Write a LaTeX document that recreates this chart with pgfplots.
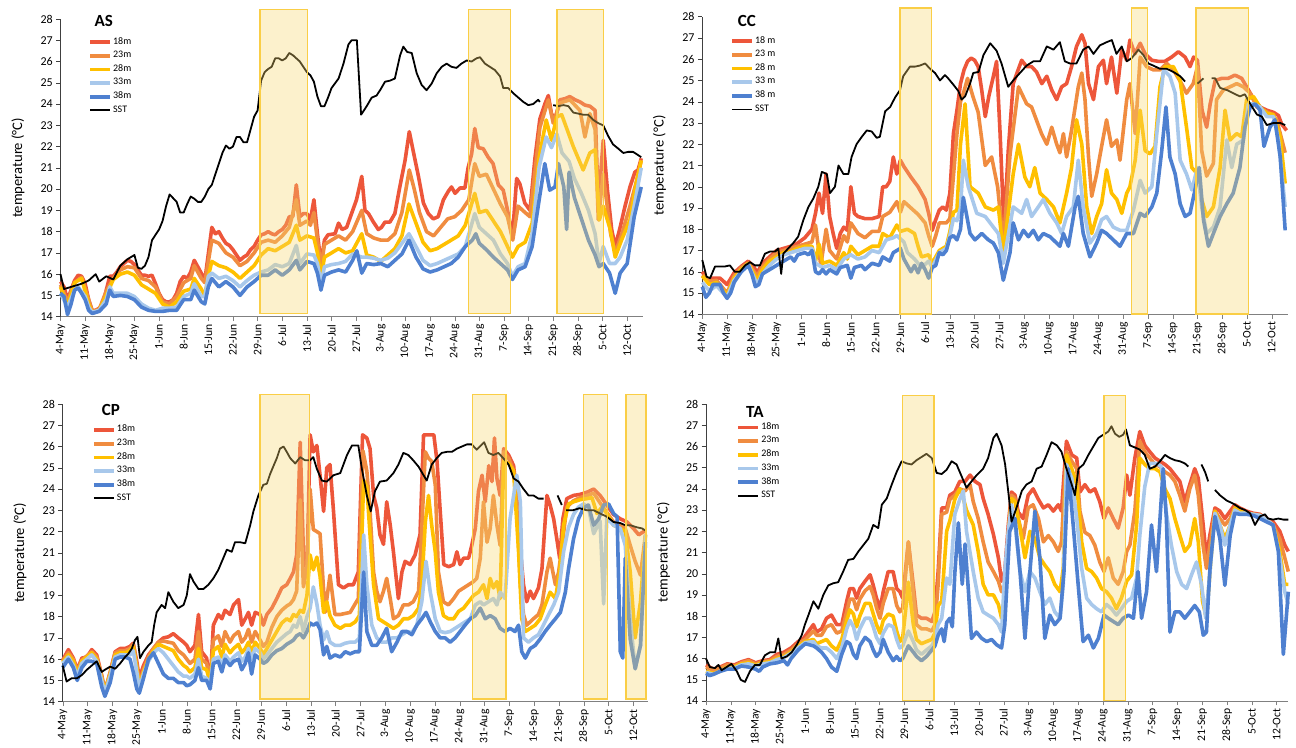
\documentclass[border=0pt]{standalone}
\usepackage{fontspec}
\setmainfont{Carlito}
\usepackage{pgfplots}
\pgfplotsset{compat=1.18}
\newcommand{\fs}[1]{\fontsize{#1}{#1}\selectfont}
\definecolor{c18}{RGB}{237,86,58}
\definecolor{c23}{RGB}{240,140,64}
\definecolor{c28}{RGB}{255,192,0}
\definecolor{c33}{RGB}{168,200,235}
\definecolor{c38}{RGB}{78,128,208}
\definecolor{boxfill}{RGB}{247,214,110}
\definecolor{boxedge}{RGB}{250,206,70}
\tikzset{hbox/.style={draw=boxedge, line width=0.7pt, fill=boxfill, fill opacity=0.35}}
\pgfplotsset{
  panel/.style={
    scale only axis, xmin=0, ymin=14, ymax=28,
    axis x line*=bottom, axis y line*=left,
    axis line style={-},
    x axis line style={draw=gray},
    y axis line style={draw=black!75},
    xtick={0,7,...,161},
    xticklabels={4-May,11-May,18-May,25-May,1-Jun,8-Jun,15-Jun,22-Jun,29-Jun,6-Jul,13-Jul,20-Jul,27-Jul,3-Aug,10-Aug,17-Aug,24-Aug,31-Aug,7-Sep,14-Sep,21-Sep,28-Sep,5-Oct,12-Oct},
    xticklabel style={rotate=90, anchor=east, font=\fs{5.8}, inner sep=1.5pt},
    ytick={14,...,28},
    yticklabel style={font=\fs{6}, inner sep=1.5pt},
    /pgf/number format/assume math mode=true,
    tick align=outside, major tick length=2.2pt,
    xtick style={draw=gray}, ytick style={draw=black!75},
    ylabel={temperature (°C)},
    every axis y label/.style={at={(axis description cs:-0.073,0.5)}, rotate=90, anchor=center, font=\fs{7.3}},
    clip=false, unbounded coords=jump,
    legend style={draw=none, fill=none, font=\fs{5}, inner sep=0pt, row sep=0.8pt, nodes={inner sep=0.6pt}, anchor=north west, cells={anchor=west}},
    legend image code/.code={\draw[#1] (0pt,0pt) -- (10pt,0pt);},
    every axis plot/.append style={line join=round},
  },
  s18/.style={c18, line width=1.8pt},
  s23/.style={c23, line width=1.8pt},
  s28/.style={c28, line width=1.8pt},
  s33/.style={c33, line width=1.8pt},
  s38/.style={c38, line width=1.8pt},
  sst/.style={black, line width=0.9pt},
}
\begin{document}
\begin{tikzpicture}
\useasboundingbox (0,0) rectangle (648pt,374pt);
% ---------------- AS ----------------
\begin{axis}[panel, at={(30.25pt,215.65pt)}, anchor=south west, width=291.25pt, height=148.85pt, xmax=165.5,
  legend style={at={(axis cs:7.8,27.22)}}]
\addplot[s18] coordinates {(0,15.65)(1,15.4)(2,14.8)(3,15.25)(4,15.7)(5,15.95)(6,15.9)(7,15.55)(8,14.8)(9,14.3)(10,14.3)(11,14.4)(12,14.55)(13,15.25)(14,15.9)(15,15.9)(16,16.1)(17,16.35)(18,16.5)(19,16.65)(20,16.6)(21,16.45)(22,16.2)(23,15.95)(24,15.95)(25,15.9)(26,15.95)(27,15.55)(28,15.1)(29,14.8)(30,14.7)(31,14.7)(32,14.8)(33,15.1)(34,15.65)(35,15.9)(36,15.8)(37,16.1)(38,16.65)(39,16.35)(40,16.05)(41,15.7)(42,16.95)(43,18.2)(44,17.9)(45,18.0)(46,17.7)(47,17.45)(48,17.35)(49,17.15)(50,16.9)(51,16.65)(52,16.8)(53,16.9)(54,17.15)(55,17.3)(56,17.6)(57,17.85)(58,17.9)(59,18.0)(60,17.9)(61,17.85)(62,18.0)(63,18.1)(64,18.3)(65,18.7)(66,18.7)(67,20.2)(68,18.7)(69,18.85)(70,18.85)(71,18.55)(72,19.5)(73,17.9)(74,16.5)(75,17.6)(76,17.85)(78,17.9)(79,18.4)(80,18.1)(81.3,18.2)(82.7,18.85)(84.1,19.5)(85.6,20.6)(86.5,19.0)(87.5,18.85)(88.9,18.45)(90.3,18.1)(91.2,18.2)(92.2,18.45)(93.6,18.45)(95,18.85)(96.4,20.1)(97.9,21.35)(99.1,22.7)(100.2,21.8)(101.7,20.6)(103.1,19.35)(104.5,18.85)(105.9,18.6)(107.3,18.7)(108.8,19.5)(110.2,19.9)(111.1,20.1)(112.1,19.8)(113.5,20.05)(114.9,20.05)(115.8,21.0)(116.8,21.65)(117.7,22.85)(118.7,21.95)(120.1,21.9)(121.5,21.5)(122.9,21.2)(124.4,20.2)(125.8,19.95)(127.2,18.85)(128.4,17.75)(129.6,20.5)(130.5,20.25)(131.9,19.35)(133.4,19.0)(134.8,21.45)(136.2,23.3)(137.6,24.0)(138.6,24.4)(139.5,23.55)(140.5,23.25)(141.9,24.2)(143.3,24.25)(144.7,24.35)(146.2,24.2)(147.6,24.1)(149,23.95)(150.4,23.9)(151.9,23.7)(152.8,19.2)(154.2,22.3)(155.4,19.95)(156.6,18.1)(157.6,17.3)(159,18.2)(160.4,19.2)(161.8,20.1)(163.2,20.8)(164.1,20.9)(165,21.45)};
\addlegendentry{18m}
\addplot[s23] coordinates {(0,15.5)(2,14.7)(4,15.6)(6,15.85)(8,14.8)(9,14.25)(11,14.35)(13,15.2)(15,15.8)(17,16.2)(19,16.35)(21,16.3)(23,15.8)(25,15.7)(27,15.4)(29,14.7)(31,14.6)(33,14.95)(35,15.6)(37,15.8)(38,16.4)(40,15.8)(41,15.6)(42,16.6)(43,17.6)(45,17.45)(47,17.0)(49,16.8)(51,16.4)(53,16.6)(55,17.0)(57,17.5)(59,17.6)(61,17.5)(63,17.8)(65,18.2)(67,19.5)(68,18.3)(70,18.5)(71,18.3)(72,18.9)(73,17.6)(74,16.3)(75,17.4)(77,17.6)(79,17.8)(81,17.6)(83,18.0)(85.6,19.0)(87,17.9)(89,17.7)(91,17.6)(93,17.6)(95,17.9)(97,18.9)(99.1,20.9)(100.5,20.0)(102,18.9)(104,18.0)(106,17.8)(108,18.2)(110,18.6)(112,18.7)(114,19.0)(116,19.5)(117.7,21.2)(119,20.6)(121,20.7)(123,20.0)(125,19.3)(127,18.7)(128.5,17.6)(130,19.2)(132,18.9)(133.4,18.7)(136.2,22.9)(138.6,24.2)(140,23.1)(141.9,24.05)(144.7,24.2)(147.6,23.7)(149,22.45)(150.4,23.55)(151.9,22.8)(152.8,18.55)(154.2,20.7)(156.3,17.9)(157.6,17.0)(159.5,17.9)(161.8,19.2)(163.7,20.4)(165,21.35)};
\addlegendentry{23m}
\addplot[s28] coordinates {(0,15.4)(2,14.5)(4,15.6)(6,15.8)(8,14.6)(9,14.2)(11,14.3)(13,15.0)(15,15.75)(17,16.0)(19,16.1)(21,15.95)(23,15.5)(25,15.3)(27,15.1)(29,14.6)(31,14.45)(33,14.7)(35,15.2)(37,15.3)(38,15.8)(40,15.3)(41,15.0)(42,15.9)(43,16.6)(45,16.4)(47,16.3)(49,16.1)(51,15.8)(53,16.1)(55,16.4)(57,16.9)(59,17.2)(61,17.1)(63,17.3)(65,17.5)(67,18.3)(68,17.6)(70,17.8)(72,17.7)(73,17.0)(74,15.8)(75,16.8)(77,17.0)(79,17.2)(81,17.0)(83,17.1)(85.6,17.9)(87,16.9)(89,16.8)(91,16.6)(93,16.9)(95,17.2)(97,17.8)(99,19.3)(101,18.4)(103,17.5)(105,17.1)(107,17.2)(109,17.4)(111,17.6)(113,17.8)(115,18.3)(117.7,19.8)(119,18.9)(121,19.0)(123,18.5)(125,18.0)(127,17.3)(128.4,16.8)(130,17.3)(132,17.5)(134,18.4)(136,21.5)(138,23.25)(139.5,22.3)(141,23.4)(142.4,23.5)(145.7,22.0)(148.5,20.9)(150.4,21.7)(151.9,21.85)(153.1,18.55)(154.2,19.2)(156.2,18.1)(157.6,16.8)(159.4,17.6)(161.8,18.55)(163.7,20.4)(165,21.35)};
\addlegendentry{28m}
\addplot[s33] coordinates {(0,15.1)(2,14.45)(4,15.25)(5,15.4)(7,14.95)(8,14.45)(9,14.2)(11,14.3)(13,14.8)(14,15.4)(15,15.1)(17,15.1)(19,15.1)(21,14.95)(23,14.6)(25,14.4)(27,14.3)(29,14.4)(31,14.4)(33,14.45)(35,14.95)(37,15.1)(38,15.55)(40,14.95)(41,14.95)(42,15.9)(43,16.05)(45,15.8)(47,15.9)(49,15.7)(51,15.4)(53,15.7)(55,15.95)(57,16.1)(59,16.2)(61,16.45)(63,16.35)(65,16.5)(67,17.35)(68,16.5)(70,16.95)(72,16.9)(73,16.5)(74,15.55)(75,16.35)(77,16.45)(79,16.5)(81,16.6)(83,16.95)(85.6,16.8)(87,16.8)(89,16.75)(91,16.65)(93,16.75)(95,17.0)(97,17.45)(99,17.9)(101,17.3)(103,16.65)(105,16.4)(107,16.5)(109,16.65)(111,16.8)(113,16.95)(115,17.3)(117.7,18.85)(119,18.2)(121,17.9)(123,17.6)(125,16.95)(127,16.5)(128.4,15.9)(130,16.35)(132,16.5)(134,17.9)(136,21.05)(138,22.45)(139.5,21.95)(141,22.6)(142.5,21.7)(144.5,21.3)(146,20.5)(148,19.8)(150,19.0)(151.9,17.9)(153,16.5)(154.2,17.3)(156,16.5)(157.6,16.5)(159,16.8)(161,17.6)(163,19.2)(165,21.0)};
\addlegendentry{33m}
\addplot[s38] coordinates {(0,15.1)(1,14.95)(2,14.1)(3,14.6)(4,15.25)(5,15.35)(6,15.1)(7,14.8)(8,14.3)(9,14.15)(11,14.25)(13,14.6)(14,15.25)(15,14.95)(17,15.0)(19,14.95)(21,14.8)(23,14.45)(25,14.3)(27,14.25)(29,14.25)(31,14.3)(33,14.3)(35,14.8)(37,14.8)(38,15.25)(40,14.7)(41,14.6)(42,15.4)(43,15.8)(45,15.4)(47,15.65)(49,15.4)(51,15.0)(53,15.4)(55,15.65)(57,15.95)(59,15.95)(61,16.2)(63,15.95)(65,16.2)(67,16.65)(68,16.2)(70,16.6)(72,16.5)(73,16.05)(74,15.25)(75,15.95)(77,16.1)(79,16.2)(81,16.1)(83,16.65)(84.2,17.1)(85.6,16.05)(87,16.5)(89,16.45)(91,16.5)(93,16.35)(95,16.65)(97,16.95)(99,17.6)(101,16.8)(103,16.25)(105,16.1)(107,16.2)(109,16.35)(111,16.5)(113,16.8)(115,17.3)(117,17.6)(118,17.9)(119,17.45)(121,17.15)(123,16.8)(125,16.5)(127,16.2)(128.4,15.75)(130,16.2)(132,16.35)(134,17.3)(136,19.5)(137.6,21.2)(139,19.95)(140.5,20.1)(141.5,21.2)(143,20.1)(143.8,18.1)(144.5,20.8)(146,19.6)(148,18.6)(150,17.6)(151.9,16.9)(153,16.35)(154.2,16.5)(156,16.05)(157.6,15.1)(159,16.05)(161,16.5)(163,18.7)(165,20.1)};
\addlegendentry{38m}
\addplot[sst] coordinates {(0,16.0)(1,15.3)(3,15.4)(6,15.55)(8,15.7)(10,16.0)(11,15.65)(13,15.9)(15,15.75)(17,16.4)(19,16.7)(21,16.9)(22,16.3)(23,16.25)(24,16.4)(25,16.8)(26,17.6)(28,18.1)(29,18.5)(30,19.2)(31,19.75)(33,19.4)(34,18.9)(35,18.9)(36,19.3)(37,19.65)(38,19.55)(39,19.4)(40,19.4)(41,19.65)(42,20.0)(43,20.2)(45,21.2)(46,21.7)(47,22.05)(48,21.9)(49,22.0)(50,22.45)(51,22.45)(52,22.2)(53,22.2)(54,22.8)(55,23.4)(56,23.7)(57,25.1)(58,25.5)(59,25.65)(60,25.75)(61,26.15)(62,26.15)(63,26.05)(64,26.15)(65,26.4)(66,26.3)(67,26.15)(68,26.0)(69,25.75)(70,25.5)(71,25.35)(72,25.05)(73,24.35)(74,23.9)(75,23.9)(76,24.3)(77,24.75)(79,25.2)(80.4,25.9)(81.8,26.8)(82.7,27.0)(84.2,27.0)(85.4,23.5)(87,23.9)(88.4,24.3)(89.8,24.4)(90.8,24.65)(92.2,25.05)(93.6,25.1)(95,25.2)(96.5,26.3)(97.4,26.7)(98.5,26.45)(99.8,26.4)(101.2,25.45)(102.6,24.9)(104,24.65)(105.4,24.95)(106.9,25.45)(108.3,25.75)(109.7,25.9)(111.1,25.75)(112.5,25.7)(113.9,25.9)(115.4,26.05)(116.8,26.0)(118.2,26.15)(119.2,26.2)(120.6,25.9)(122,25.75)(123.4,25.6)(124.9,25.3)(125.8,24.75)(127.2,24.75)(128.7,24.5)(130.1,24.3)(131.5,24.1)(132.9,23.95)(134.3,24.0)(135.7,24.2)(136.2,24.1)(137,nan)(140,23.95)(141.4,23.9)(142.9,23.95)(144.3,23.9)(145.7,23.6)(147.1,23.55)(148.5,23.5)(149.9,23.5)(151.4,23.25)(152.8,23.1)(154.2,23.0)(155.6,22.5)(157,22.1)(158.5,21.9)(159.9,21.7)(161.3,21.75)(162.7,21.75)(164.1,21.6)(165,21.5)};
\addlegendentry{SST}
\draw[hbox] (axis cs:56.7,14.15) rectangle (axis cs:70.1,28.45);
\draw[hbox] (axis cs:115.9,14.15) rectangle (axis cs:127.9,28.45);
\draw[hbox] (axis cs:141.1,14.15) rectangle (axis cs:154.2,28.45);
\node[font=\bfseries\fs{8.5}] at (axis cs:12.3,27.92) {AS};
\end{axis}
% ---------------- CC ----------------
\begin{axis}[panel, at={(351.15pt,216.85pt)}, anchor=south west, width=292.85pt, height=148.8pt, xmax=165.6,
  legend style={at={(axis cs:7.8,27.15)}}]
\addplot[s18] coordinates {(0,16.0)(1.5,15.6)(3,15.7)(5,15.7)(7,15.4)(9,15.95)(11,16.25)(13,16.5)(14.5,16.25)(15.5,15.95)(17,16.4)(19,16.7)(21,17.0)(23,17.1)(25,17.2)(27,17.35)(29,17.6)(31,18.0)(32,18.75)(33,19.7)(34,18.75)(35,20.6)(36,18.6)(37,17.8)(38,17.1)(39,17.8)(40,18.1)(41,17.95)(42,20.0)(43,18.75)(44,18.6)(46,18.5)(48,18.5)(50,18.6)(51,20.0)(52,20.0)(53,20.25)(54,21.4)(55,20.6)(56,21.25)(57,20.95)(59,20.45)(61,20.0)(63,19.4)(64,18.75)(65,17.95)(66,18.45)(67,18.9)(68,19.05)(69,18.9)(70,19.7)(71,22.5)(72,23.6)(73,24.85)(74,25.5)(75,25.9)(76,26.05)(77,25.95)(78,25.65)(79,24.55)(80,23.3)(81,24.25)(82.3,25.2)(83.2,25.9)(84.2,22.5)(85.3,18.0)(86.5,21.7)(87.9,24.85)(89.3,25.5)(90.3,25.95)(91.7,25.65)(93.1,25.65)(94.5,25.4)(96,24.85)(97.4,25.2)(98.8,24.55)(100.2,24.1)(101.6,24.7)(103,24.85)(104.4,25.65)(105.8,26.6)(107.3,27.15)(108.2,26.75)(109.2,24.85)(110.6,24.1)(112,25.65)(113.4,25.95)(114.3,24.85)(115.7,26.1)(117.2,24.4)(118.6,26.45)(120,25.95)(120.9,26.9)(122.3,26.25)(123.8,26.75)(125.2,26.25)(127.1,25.95)(128.9,25.9)(130.8,25.9)(132.7,26.1)(134.6,26.35)(136.5,26.1)(137.9,25.65)(138.9,26.1)(140,25.95)(141.3,23.6)(142.6,22.8)(143.6,23.9)(145,25.0)(146.9,25.1)(148.7,25.1)(150.6,25.25)(152.5,25.1)(153.9,24.7)(155.8,24.15)(157.7,23.75)(159.6,23.6)(161.5,23.5)(162.9,23.35)(163.8,22.95)(165.2,22.65)};
\addlegendentry{18 m}
\addplot[s23] coordinates {(0,15.85)(2,15.55)(4,15.6)(7,15.0)(9,15.8)(11,16.2)(13,16.4)(15.5,15.8)(17,16.25)(19,16.6)(21,16.9)(23,17.0)(25,17.1)(27,17.2)(29,17.3)(31,17.4)(32,18.2)(33.5,16.3)(35,18.0)(36,17.0)(38,16.6)(40,17.7)(41,17.4)(42,18.3)(44,17.8)(46,17.6)(48,17.9)(50,17.9)(51,18.6)(53,18.8)(55,19.3)(56,18.8)(57,19.3)(59,19.0)(61,18.7)(63,18.3)(64,17.7)(65,17.2)(66,17.7)(67,18.3)(69,18.3)(70,18.5)(71,20.5)(72,22.5)(73,24.0)(74,24.5)(75,25.1)(76.6,24.2)(78,23.5)(80,21.0)(81.8,21.4)(83.5,20.0)(85.1,17.3)(87,21.5)(89.4,24.7)(91.7,23.9)(93.1,23.75)(95.9,22.5)(97.4,22.0)(98.8,22.8)(100.2,22.0)(101.1,21.6)(102.1,22.5)(103,21.4)(104.4,22.65)(106.3,24.7)(107.3,25.35)(108.2,24.1)(109.2,21.4)(110.1,19.55)(111.5,20.6)(112.9,21.9)(114.3,23.15)(115.7,21.9)(117.2,22.2)(118.1,21.25)(120,24.1)(120.9,24.85)(122.4,22.5)(123.8,26.1)(125.6,25.65)(127.5,25.5)(129.4,25.5)(131.3,25.8)(133.2,25.5)(135.5,24.85)(136.9,24.4)(138.8,24.85)(140,25.65)(141.2,21.7)(142.6,20.5)(144.5,21.1)(145.4,24.1)(147.3,24.55)(149.2,24.7)(151.1,24.85)(153,24.7)(154.9,24.4)(156.8,23.75)(158.6,23.6)(160.5,23.45)(162.4,23.15)(164.8,21.6)};
\addlegendentry{23 m}
\addplot[s28] coordinates {(0,15.8)(2,15.4)(4,15.5)(7,14.9)(9,15.7)(11,16.1)(13,16.4)(15.5,15.6)(17,16.1)(19,16.5)(21,16.7)(23,16.9)(25,16.95)(27,17.1)(29,17.2)(31,17.2)(32,16.5)(33,17.3)(34,16.4)(36,16.5)(38,16.3)(40,16.9)(41,16.6)(42,17.2)(44,16.8)(46,17.0)(48,17.2)(50,17.2)(51,17.8)(53,17.6)(55,18.2)(56,17.9)(58,18.0)(60,17.8)(61,17.2)(62,16.7)(64,16.8)(65,16.4)(66,16.7)(67,17.0)(69,17.2)(70,17.9)(71,18.8)(72,18.9)(73,22.0)(74.3,23.9)(75.7,20.0)(78,19.7)(80,19.05)(82.3,18.9)(83.7,19.05)(85.1,16.9)(87.9,20.6)(89.4,22.0)(91.2,20.45)(92.6,20.0)(94,20.9)(95.5,19.7)(97.4,19.4)(99.3,19.05)(101.1,18.3)(103,19.7)(104.4,20.9)(105.8,23.15)(107.3,22.0)(108.7,19.05)(110.1,17.8)(111.5,18.6)(112.9,19.2)(114.3,20.8)(115.7,19.7)(117.2,19.4)(118.6,18.75)(120,19.7)(120.9,20.0)(122.4,21.25)(123.8,23.6)(125.2,21.7)(126.6,21.55)(128,21.9)(129.4,24.7)(130.8,25.65)(133.2,25.65)(135.1,25.0)(136.9,22.8)(138.4,20.9)(140,20.6)(141.2,19.4)(142.6,18.6)(144.5,19.05)(146.4,20.9)(147.8,23.6)(149.2,22.2)(151.1,22.5)(152.5,22.35)(153.9,24.1)(155.8,24.25)(157.7,23.75)(159.6,23.45)(161.5,23.4)(163.4,22.35)(164.8,20.15)};
\addlegendentry{28 m}
\addplot[s33] coordinates {(0,15.5)(2,15.1)(4,15.35)(7,14.8)(9,15.6)(11,16.0)(13,16.35)(15.5,15.4)(17,15.9)(19,16.3)(21,16.6)(23,16.8)(25,16.9)(27,17.0)(29,17.1)(31,17.1)(32,16.4)(34,16.2)(36,16.3)(38,16.1)(40,16.6)(42,16.8)(44,16.6)(46,16.7)(48,17.0)(50,16.9)(52,17.5)(54,17.6)(55,17.7)(57,17.4)(58,16.9)(60,16.6)(62,16.2)(64,16.5)(65,16.2)(67,16.9)(69,17.1)(70,17.7)(71,18.5)(72,18.4)(73,19.0)(73.8,21.25)(75.2,20.0)(77.6,18.75)(80,18.6)(82.3,18.1)(83.7,17.8)(85.1,16.4)(87.9,19.05)(90.3,18.75)(91.7,19.4)(93.1,18.6)(95,19.05)(96.4,19.4)(98.3,18.75)(100.2,18.3)(101.6,17.8)(103,18.6)(104.9,19.05)(106.3,21.25)(107.7,19.05)(109.6,17.35)(111.5,17.8)(112.9,18.45)(114.3,18.6)(116.2,18.1)(118.1,17.95)(120,17.95)(121.9,18.9)(123.8,20.3)(125.2,19.7)(127.1,20.0)(128.5,22.5)(130.4,25.5)(132.2,25.2)(133.7,24.4)(135.1,21.25)(136.9,20.6)(138.4,19.85)(140,20.9)(141.2,19.05)(142.6,17.8)(144.5,18.1)(146.4,19.05)(148.3,22.2)(149.7,20.9)(151.1,22.0)(153,22.2)(154.4,23.9)(155.8,23.9)(157.7,23.75)(159.6,23.3)(161.5,23.3)(162.9,22.2)(164.8,19.05)};
\addlegendentry{33 m}
\addplot[s38] coordinates {(0,15.3)(1,14.8)(2,15.0)(3,15.4)(5,15.4)(6,15.0)(7,14.75)(8,15.0)(9,15.5)(11,16.0)(13,16.3)(14,15.9)(15,15.3)(16,15.4)(17,15.9)(19,16.1)(21,16.3)(23,16.5)(25,16.7)(26,16.5)(27,16.8)(29,16.9)(30,16.8)(31,17.0)(32,16.0)(33,15.9)(34,16.1)(35,15.9)(36,16.1)(38,15.9)(39,16.2)(41,16.3)(42,15.7)(43,16.2)(45,16.3)(46,16.1)(48,16.4)(50,16.3)(51,16.7)(53,16.5)(54,16.9)(55,17.0)(56,17.1)(57,16.6)(58,16.3)(59,16.0)(60,16.3)(61,15.95)(62,16.4)(63,16.1)(64,15.7)(65,16.2)(66,16.3)(67,16.9)(68,16.8)(69,17.0)(70,17.6)(71,17.7)(72,17.5)(73,18.0)(73.8,19.5)(75.7,17.8)(77.1,17.5)(79,17.8)(80.9,17.5)(82.3,17.35)(83.7,16.9)(85.1,15.6)(87,16.9)(87.9,18.3)(89.4,17.5)(90.8,17.95)(92.2,17.65)(93.6,17.95)(95,17.5)(96.4,17.8)(98.3,17.65)(100.2,17.35)(101.1,17.2)(102.1,17.8)(103.5,17.2)(105.4,19.05)(106.3,19.55)(107.7,17.8)(109.6,16.7)(111.5,17.35)(112.9,17.95)(114.3,17.8)(116.2,17.5)(118.1,17.2)(120,17.8)(121.9,17.8)(123.8,18.75)(125.2,18.6)(127.1,19.05)(128.5,19.7)(129.9,21.7)(131.1,23.75)(132.2,21.4)(133.7,20.6)(135.1,19.2)(136.5,18.6)(137.9,18.75)(139.3,19.85)(140.5,20.9)(141.7,18.45)(143.1,17.2)(144.5,17.8)(146.4,18.6)(148.3,19.2)(150.1,19.7)(152,20.9)(153.4,22.8)(154.9,23.75)(156.3,23.9)(157.7,23.6)(158.8,21.9)(160.5,22.8)(161.9,23.15)(163.4,21.4)(164.8,17.95)};
\addlegendentry{38 m}
\addplot[sst] coordinates {(0,16.55)(1.2,15.77)(2.2,15.7)(3.6,16.25)(5,16.25)(6.4,16.25)(7.8,16.3)(9.2,16.0)(10.6,16.0)(12.1,16.3)(13.5,16.45)(14.9,16.3)(16.3,16.3)(17.7,16.85)(19.1,16.95)(20.6,16.95)(21.5,17.1)(22.3,15.9)(22.9,16.85)(24.3,17.1)(25.7,17.35)(27.1,17.65)(28.6,18.45)(30,19.05)(31.4,19.45)(32.8,20.0)(33.8,20.7)(35.2,20.6)(36.1,19.7)(37.5,20.0)(38.5,21.0)(39.9,20.6)(41.3,20.6)(42.2,21.4)(43.6,22.0)(45.1,22.35)(46.5,22.65)(47.9,22.6)(49.3,22.3)(50.2,22.35)(51.7,23.55)(53.1,23.75)(54.5,24.2)(55.9,24.55)(56.8,25.2)(58.7,25.65)(60.1,25.65)(61.5,25.7)(63,25.8)(64.4,25.55)(65.8,25.35)(67.2,25.0)(68.6,25.25)(69.5,25.1)(71,24.8)(72.4,24.5)(73.3,24.1)(74.3,24.25)(75.7,24.85)(76.6,25.35)(78.1,25.4)(79.5,26.2)(81.4,26.75)(83.2,26.4)(84.6,25.8)(86.5,24.7)(87.9,25.0)(89.8,25.35)(91.7,25.7)(93.6,25.9)(95.5,25.9)(97.4,26.6)(99.3,26.45)(101.1,26.8)(102.5,25.9)(103.9,25.8)(105.8,25.8)(107.7,26.45)(109.2,26.6)(110.6,26.25)(112.4,26.65)(114.3,26.8)(115.8,26.9)(117.1,26.25)(118.6,26.6)(120,25.9)(121.4,26.05)(123.3,26.45)(124.7,26.2)(126.1,25.8)(127.5,25.7)(129.4,25.55)(131.3,25.55)(133.2,25.4)(135.1,25.2)(136.5,24.95)(137.5,nan)(140,24.85)(141.7,25.1)(142.5,nan)(144,25.1)(145,25.1)(146.4,24.65)(148.3,24.55)(150.1,24.4)(152,24.25)(153.4,24.35)(154.9,23.9)(156.8,23.4)(158.2,23.3)(159.6,22.9)(161.5,23.0)(163.4,23.0)(164.8,22.9)};
\addlegendentry{SST}
\draw[hbox] (axis cs:55.9,14.02) rectangle (axis cs:64.8,28.4);
\draw[hbox] (axis cs:121.4,14.02) rectangle (axis cs:125.9,28.4);
\draw[hbox] (axis cs:139.6,14.02) rectangle (axis cs:154.5,28.4);
\node[font=\bfseries\fs{8.5}] at (axis cs:12.6,27.8) {CC};
\end{axis}
% ---------------- CP ----------------
\begin{axis}[panel, at={(31.35pt,23.15pt)}, anchor=south west, width=292.8pt, height=148.85pt, xmax=165.2,
  legend style={at={(axis cs:8.2,27.08)}}]
\addplot[s18] coordinates {(0,15.95)(1.6,16.45)(3,16.05)(4.1,15.5)(5.4,16.05)(6.8,16.1)(8.2,16.45)(9.6,16.2)(11,15.25)(11.9,14.5)(13.4,15.4)(14.8,16.35)(16.2,16.5)(17.6,16.5)(19,16.6)(19.9,16.75)(20.9,15.9)(21.6,15.1)(22.8,15.7)(24.2,16.2)(25.6,16.5)(27,16.8)(28.4,17.0)(29.8,17.05)(31.2,17.2)(32.6,17.0)(34.1,16.8)(35,16.65)(35.9,16.35)(37.3,16.65)(38.3,18.1)(39.2,16.35)(40.6,16.05)(41.6,14.8)(42.5,17.6)(43.9,18.1)(44.9,17.9)(45.8,18.3)(47.2,18.1)(48.2,18.55)(49.6,18.8)(50.5,17.6)(51.5,17.9)(52.4,18.2)(53.3,17.6)(54.3,18.2)(55.7,18.1)(56.6,17.6)(57.6,18.1)(59,18.4)(60.4,18.85)(61.8,19.35)(63.2,19.5)(64.2,19.8)(65.1,20.1)(66,20.9)(67,26.2)(67.9,21.05)(68.9,20.1)(69.8,26.55)(70.7,25.75)(71.7,26.05)(72.6,24.65)(73.6,22.95)(74.5,25.0)(75.4,25.15)(76.4,22.95)(77.8,19.5)(79.2,19.35)(80.6,19.5)(82,19.5)(83.4,20.1)(84.6,26.55)(85.8,26.4)(86.7,25.9)(87.7,23.7)(88.6,23.1)(89.5,21.85)(90.5,21.4)(91.4,23.4)(92.4,22.3)(93.3,21.05)(94.7,18.85)(95.7,20.1)(96.6,20.6)(98,20.45)(99.4,20.9)(100.8,21.85)(101.8,26.55)(103.2,26.55)(104.7,26.55)(105.6,25.3)(106.5,22.95)(107.5,20.45)(108.9,20.35)(110.3,20.45)(111.2,21.05)(112.1,20.45)(113.1,20.75)(114.5,20.75)(115.4,21.35)(116.4,22.15)(117.3,23.9)(118.3,24.65)(119.2,23.4)(120.2,25.1)(121.1,24.35)(121.8,26.4)(122.5,24.5)(123.4,23.7)(124.4,25.9)(125.8,25.6)(127.2,25.1)(128.1,23.7)(129,21.35)(130,19.5)(130.9,18.7)(131.9,19.2)(132.8,18.85)(134.2,19.35)(135.2,20.25)(136.6,23.7)(137.5,23.25)(138.5,22.6)(139.4,21.65)(140.2,20.75)(141.1,22.6)(142.2,23.55)(144.1,23.7)(146,23.75)(147.9,23.85)(149.8,24.0)(151.6,23.7)(153.5,23.25)(155.4,22.8)(157.3,22.6)(159.2,22.45)(161,22.15)(162.5,21.85)(163.9,22.0)(164.8,22.0)};
\addlegendentry{18m}
\addplot[s23] coordinates {(0,15.9)(1.6,16.3)(3,16.0)(4.1,15.4)(5.4,15.95)(8.2,16.35)(9.6,16.1)(11,15.2)(11.9,14.5)(13.4,15.35)(14.8,16.3)(16.2,16.4)(17.6,16.4)(19,16.5)(19.9,16.7)(20.9,15.7)(21.6,14.8)(22.8,15.5)(24.2,16.1)(25.6,16.5)(27,16.8)(28.4,16.85)(29.8,16.8)(31.2,16.75)(32.6,16.4)(34.1,16.2)(35,16.0)(35.9,15.8)(37.3,16.0)(38.3,17.3)(39.2,16.0)(40.6,15.8)(41.6,15.0)(42.5,16.9)(43.9,17.1)(44.9,16.6)(45.8,17.3)(47.2,16.8)(48.2,17.1)(49.6,17.3)(50.5,16.8)(51.5,17.0)(52.4,17.4)(53.3,16.8)(54.3,17.3)(55.7,16.9)(56.6,16.6)(57.6,16.8)(59,17.5)(60.4,18.0)(61.8,18.3)(63.2,18.5)(64.2,18.6)(65.1,18.8)(66,19.2)(67,23.5)(67.9,19.4)(68.9,20.3)(69.8,24.0)(70.7,22.1)(71.7,22.0)(72.6,21.9)(74,18.2)(75.4,19.95)(76.8,18.1)(78.3,18.1)(79.7,18.15)(81.1,18.2)(82.5,18.6)(83.4,18.85)(84.7,25.8)(85.8,24.85)(86.7,22.95)(87.7,20.1)(88.6,19.2)(89.5,18.7)(90.5,19.2)(91.4,19.8)(92.4,18.85)(93.3,17.9)(94.7,18.05)(96.1,18.55)(97.5,18.55)(98.9,18.7)(100.4,19.2)(101.3,22.15)(102.3,25.75)(103.2,25.45)(104.1,25.3)(105.1,24.2)(106,20.1)(107.4,18.7)(108.8,18.55)(110.3,18.85)(111.7,19.2)(113.1,19.35)(114.5,19.5)(115.9,19.65)(116.8,19.8)(117.8,20.75)(118.7,23.4)(119.7,21.5)(120.6,22.15)(121.5,23.7)(122.5,22.3)(123.4,21.35)(124.4,25.75)(125.8,25.45)(127.2,24.85)(128.1,23.4)(129.1,19.5)(130,18.1)(130.9,17.6)(132.8,17.9)(134.2,18.1)(135.2,18.55)(136.6,20.1)(137.5,20.75)(139,19.5)(139.9,20.1)(141.1,21.65)(142.2,23.15)(144.1,23.45)(146,23.6)(147.9,23.7)(149.8,23.8)(151.6,23.35)(153.5,22.9)(155.4,22.45)(157.3,22.3)(158.7,22.15)(160.1,21.35)(161.5,20.6)(163,19.95)(164.4,21.85)};
\addlegendentry{23m}
\addplot[s28] coordinates {(0,15.85)(1.6,16.2)(3,15.9)(4.1,15.3)(5.4,15.9)(8.2,16.3)(9.6,16.0)(11,15.1)(11.9,14.5)(13.4,15.3)(14.8,16.2)(16.2,16.3)(17.6,16.3)(19,16.4)(19.9,16.6)(20.9,15.6)(21.6,14.7)(22.8,15.4)(24.2,16.0)(25.6,16.4)(27,16.7)(28.4,16.6)(29.8,16.5)(31.2,16.4)(32.6,16.0)(34.1,15.7)(35,15.6)(35.9,15.4)(37.3,15.6)(38.3,16.5)(39.2,15.6)(40.6,15.5)(41.6,14.9)(42.5,16.4)(43.9,16.6)(44.9,16.1)(45.8,16.7)(47.2,16.3)(48.2,16.5)(49.6,16.7)(50.5,16.3)(51.5,16.5)(52.4,16.8)(53.3,16.3)(54.3,16.8)(55.7,16.5)(56.6,16.2)(57.6,16.5)(59,16.9)(60.4,17.3)(61.8,17.7)(63.2,17.9)(64.2,17.8)(65.1,18.1)(66,18.0)(67,18.3)(67.9,18.2)(68.9,19.0)(69.8,20.9)(70.7,20.2)(71.7,20.8)(72.6,19.9)(73.6,18.2)(74.5,18.7)(75.4,18.05)(76.8,17.6)(78.3,17.45)(79.7,17.6)(81.1,17.6)(82.5,17.75)(83.7,18.05)(84.9,24.4)(85.8,24.1)(86.7,21.85)(87.7,19.5)(89.1,17.9)(90.5,17.75)(91.9,17.6)(93.3,17.45)(94.7,17.6)(96.1,17.9)(97.5,17.9)(98.9,18.05)(100.4,18.4)(101.3,19.5)(102.3,22.45)(103.2,23.7)(104.1,22.3)(105.1,21.05)(106,19.15)(107.4,18.05)(108.8,17.9)(110.3,17.9)(111.7,18.25)(113.1,18.4)(114.5,18.7)(115.9,19.0)(117.3,19.15)(118.7,19.5)(119.7,18.85)(120.6,19.8)(121.5,19.35)(122.5,19.65)(123.4,18.85)(124.4,25.3)(125.8,25.2)(127.2,24.85)(128.6,21.05)(129.5,17.9)(130.5,17.3)(131.9,17.45)(133.3,17.6)(134.7,17.9)(136.1,18.55)(137.5,19.15)(139,18.85)(140.2,20.1)(141.3,22.3)(142.7,23.3)(144.1,23.4)(146,23.5)(147.9,23.55)(149.3,23.6)(150.7,22.85)(152.1,23.15)(153.5,22.85)(155.4,22.3)(157.3,22.15)(158.7,22.0)(160.1,20.1)(161.5,17.0)(163,18.7)(164.4,21.85)};
\addlegendentry{28m}
\addplot[s33] coordinates {(0,15.8)(1.6,16.1)(3,15.7)(4.1,15.2)(5.4,15.8)(8.2,16.2)(9.6,15.9)(11,15.0)(11.9,14.4)(13.4,15.2)(14.8,16.1)(16.2,16.2)(17.6,16.2)(19,16.2)(19.9,16.4)(20.9,15.4)(21.6,14.6)(22.8,15.3)(24.2,15.9)(25.6,16.3)(27,16.5)(28.4,16.3)(29.8,16.0)(31.2,15.7)(32.6,15.4)(34.1,15.2)(35,15.2)(35.9,15.1)(37.3,15.3)(38.3,16.0)(39.2,15.2)(40.6,15.1)(41.6,14.8)(42.5,16.0)(43.9,16.1)(44.9,15.7)(45.8,16.2)(47.2,15.9)(48.2,16.1)(49.6,16.3)(50.5,15.9)(51.5,16.1)(52.4,16.5)(53.3,16.0)(54.3,16.5)(55.7,16.3)(56.6,16.0)(57.6,16.2)(59,16.5)(60.4,16.8)(61.8,17.0)(63.2,17.2)(64.2,17.3)(65.1,17.6)(66,17.5)(67,18.0)(67.9,17.3)(68.9,18.0)(69.8,18.4)(70.7,19.4)(71.7,18.6)(72.6,17.6)(73.6,16.9)(74.5,17.3)(75.4,16.8)(76.8,16.65)(78.3,16.65)(79.7,16.75)(81.1,16.8)(82.5,16.8)(83.7,17.0)(84.9,21.85)(85.8,19.5)(87.2,17.6)(88.6,17.0)(90,16.8)(91.4,16.8)(92.8,17.0)(94.3,17.0)(95.7,17.15)(97.1,17.3)(98.5,17.25)(99.9,17.6)(101.3,18.7)(102.5,20.6)(103.7,19.15)(105.1,17.9)(106.5,17.3)(107.9,17.25)(109.3,17.3)(110.7,17.45)(112.1,17.6)(113.5,17.75)(115,17.9)(116.4,18.55)(117.8,18.7)(118.7,18.55)(120.1,18.7)(121.5,18.85)(122.5,18.55)(123.4,19.15)(124.8,18.85)(126.2,22.6)(128.1,24.65)(129.1,23.4)(130,17.0)(131.4,16.8)(132.8,17.0)(134.2,17.15)(135.6,17.6)(137.1,18.1)(138.5,18.55)(139.9,19.15)(141.3,21.05)(142.7,22.2)(144.1,22.8)(145.5,23.15)(146.9,23.3)(148.3,23.15)(149.8,21.9)(150.7,22.2)(151.6,22.5)(152.6,18.6)(153.5,22.65)(155.4,22.3)(157.3,22.15)(158.7,21.35)(160.1,17.9)(161.5,15.55)(163,16.65)(164.4,21.85)};
\addlegendentry{33m}
\addplot[s38] coordinates {(0,15.6)(1.6,16.0)(3,15.6)(4.1,15.0)(5.4,15.6)(6.8,15.9)(8.2,15.9)(9.6,15.8)(11,14.7)(11.9,14.25)(13.4,14.9)(14.8,16.0)(16.2,16.1)(17.6,16.1)(19,16.0)(19.9,15.4)(20.9,14.6)(21.6,14.4)(22.8,15.1)(24.2,16.0)(25.6,16.3)(27,15.8)(28.4,15.3)(29.8,15.1)(31.2,15.1)(32.6,14.9)(34.1,14.9)(35,14.75)(35.9,14.8)(37.3,15.0)(38.3,15.6)(39.2,15.0)(40.6,15.0)(41.6,14.6)(42.5,15.8)(43.9,15.9)(44.9,15.4)(45.8,16.0)(47.2,15.7)(48.2,15.9)(49.6,16.0)(50.5,15.5)(51.5,15.8)(52.4,16.3)(53.3,15.3)(54.3,16.2)(55.7,16.0)(56.6,15.8)(57.6,15.9)(59,16.2)(60.4,16.4)(61.8,16.5)(63.2,16.7)(64.2,16.8)(65.1,16.9)(66,17.1)(67,17.2)(67.9,17.0)(68.9,17.3)(69.8,17.7)(70.7,17.6)(71.7,17.7)(72.6,17.4)(73.6,16.2)(74.5,16.6)(75.4,16.05)(76.8,16.2)(78.3,16.1)(79.7,16.35)(81.1,16.25)(82.5,16.35)(83.7,16.35)(84.9,20.1)(85.8,17.3)(87.2,16.65)(88.6,16.65)(90,17.0)(91.4,17.45)(92.8,16.35)(94.3,16.8)(95.7,17.3)(97.1,17.3)(98.5,17.15)(99.9,17.6)(101.3,17.9)(102.5,18.2)(103.7,17.75)(105.1,17.3)(106.5,17.0)(107.9,17.0)(109.3,16.8)(110.7,17.0)(112.1,17.3)(113.5,17.6)(115,17.9)(116.4,18.05)(117.8,18.4)(119.2,17.9)(120.6,18.05)(122,17.9)(123.4,17.45)(124.8,17.3)(126.2,17.45)(127.6,17.3)(128.6,17.6)(129.5,16.35)(130.5,16.05)(131.9,16.5)(133.3,16.65)(134.7,16.95)(136.1,17.3)(137.5,17.6)(139,17.9)(140.4,18.2)(141.8,19.15)(142.7,20.25)(144.1,21.65)(145.5,22.6)(146.9,23.1)(148.3,23.25)(149.8,22.3)(151.2,22.6)(152.6,23.25)(154,23.3)(155.4,22.85)(156.4,22.7)(157.3,16.35)(158,16.05)(158.7,20.75)(160.1,16.95)(161.5,15.55)(163,16.65)(164.4,21.5)};
\addlegendentry{38m}
\addplot[sst] coordinates {(0,15.7)(1.1,14.95)(2.5,15.1)(4,15.1)(5.4,15.25)(6.8,15.5)(8.2,15.7)(9.6,15.9)(11,15.4)(11.9,15.5)(13.4,15.65)(14.8,15.55)(16.2,15.8)(17.6,16.1)(18.5,16.25)(19.5,16.5)(20.4,16.9)(21.1,17.05)(21.8,16.05)(22.8,16.35)(24.2,16.65)(25.1,16.8)(25.8,17.6)(26.5,18.2)(27.9,18.55)(28.9,18.4)(29.8,19.15)(31.2,18.7)(32.6,18.4)(34.1,18.55)(35,19.0)(35.9,20.0)(36.9,19.65)(38.3,19.3)(39.7,19.3)(41.1,19.5)(42.5,19.8)(43.9,20.2)(45.3,20.75)(46.3,21.15)(47.7,21.05)(48.6,21.5)(50,21.5)(51.5,21.45)(52.9,22.3)(53.8,22.95)(55.2,23.7)(56.6,24.2)(57.6,24.25)(58.5,24.7)(59.5,25.1)(60.4,25.45)(61.3,25.9)(62.3,26.0)(63.2,25.75)(64.2,25.45)(65.6,25.2)(67,25.5)(68.4,25.35)(69.8,25.35)(70.7,25.5)(71.7,24.95)(73.1,24.4)(74.5,24.35)(76.4,24.65)(78.3,24.75)(80.2,25.6)(81.6,26.05)(83.4,26.05)(84.4,24.95)(85.8,23.7)(86.9,22.95)(88.1,23.9)(89.5,24.35)(91.4,24.4)(93.3,24.75)(94.7,25.15)(96.1,25.7)(97.5,25.6)(98.9,25.35)(100.4,25.05)(101.8,24.65)(102.7,24.4)(104.1,25.15)(105.5,25.45)(106.9,25.7)(108.4,25.75)(109.8,25.75)(111.2,25.9)(112.6,26.0)(114,26.1)(115.4,26.1)(116.8,25.85)(117.7,26.0)(118.9,26.2)(120.1,25.7)(121.5,25.6)(122.9,25.7)(124.3,25.45)(125.8,25.15)(127.2,24.5)(128.6,24.35)(130,24.0)(131.4,23.7)(132.8,23.7)(134.2,23.55)(135.7,23.55)(137,nan)(139.6,23.7)(140.8,23.25)(141.3,nan)(142,23.0)(143.9,23.0)(145.8,23.1)(147.9,23.0)(149.8,23.0)(151.6,22.85)(153.5,22.7)(155.4,22.45)(157.3,22.4)(158.7,22.3)(160.1,22.3)(162,22.2)(163.4,22.15)(164.4,22.05)};
\addlegendentry{SST}
\draw[hbox] (axis cs:55.7,14.13) rectangle (axis cs:69.6,28.45);
\draw[hbox] (axis cs:115.6,14.13) rectangle (axis cs:125.1,28.45);
\draw[hbox] (axis cs:146.9,14.13) rectangle (axis cs:153.7,28.45);
\draw[hbox] (axis cs:158.9,14.13) rectangle (axis cs:164.6,28.45);
\node[font=\bfseries\fs{8.5}] at (axis cs:13.6,27.7) {CP};
\end{axis}
% ---------------- TA ----------------
\begin{axis}[panel, at={(353pt,23.5pt)}, anchor=south west, width=291.15pt, height=148.5pt, xmax=164.3,
  legend style={at={(axis cs:8.5,27.2)}}]
\addplot[s18] coordinates {(0,15.7)(2,15.5)(4,15.6)(6,15.75)(8,15.7)(10,15.85)(12,15.95)(14,15.8)(16,15.9)(18,15.95)(20,16.2)(22,16.3)(24,16.5)(26,16.8)(27.5,16.95)(30.3,17.6)(31.2,17.25)(32.6,17.4)(34,17.9)(35.4,18.05)(36.9,17.6)(38.3,17.6)(39.7,18.7)(40.6,19.3)(41.6,19.3)(42.5,18.85)(43.4,19.3)(44.9,19.65)(46.3,19.95)(47.2,19.45)(48.1,18.85)(49.1,18.35)(50,19.15)(51.4,20.1)(52.8,20.1)(53.8,19.3)(54.7,19.15)(55.5,18.85)(57.1,21.5)(58.5,19.45)(59.4,18.05)(60.8,17.9)(62.2,17.9)(63.7,17.75)(64.6,18.2)(65.5,20.1)(66.5,23.1)(67.9,23.1)(68.8,23.7)(70.2,23.85)(71.6,24.35)(73.1,24.35)(74.5,24.65)(75.9,24.35)(77.3,24.2)(78.2,23.55)(79.6,22.8)(81.1,21.85)(82.5,20.75)(83.4,19.65)(84.3,20.1)(85.3,22.3)(86.2,23.85)(87.2,23.7)(88.1,22.9)(89.5,22.6)(90.9,23.7)(92.3,24.0)(93.8,23.5)(95.2,23.1)(96.6,23.25)(98,22.95)(99.4,23.25)(100.3,22.95)(101.7,26.25)(103.2,25.6)(104.6,25.45)(105.5,23.85)(106.9,24.2)(108.3,23.85)(109.7,24.0)(111.1,23.4)(112.3,22.6)(113.5,23.1)(114.9,22.6)(116.3,22.15)(117.7,23.1)(118.7,24.65)(119.6,23.7)(121,25.45)(122.4,26.7)(123.8,26.05)(125.2,25.75)(126.7,25.45)(128.1,25.3)(129.5,25.15)(130.9,24.95)(132.3,24.65)(133.7,24.35)(135.1,23.4)(136.5,24.2)(137.9,24.95)(138.9,24.5)(140.1,22.6)(141.2,20.75)(142.2,21.85)(143.6,23.1)(145,22.95)(146.4,22.6)(147.9,22.95)(149.2,23.25)(150.6,23.1)(152.5,22.95)(154.4,22.85)(156.3,22.8)(158.1,22.6)(160,22.45)(161.9,22.0)(163.3,21.35)(164.3,21.05)};
\addlegendentry{18m}
\addplot[s23] coordinates {(0,15.6)(2,15.45)(4,15.55)(6,15.7)(8,15.65)(10,15.8)(12,15.9)(14,15.75)(16,15.85)(18,15.9)(20,16.1)(22,16.2)(24,16.4)(26,16.7)(28,16.9)(30.3,17.3)(31.2,17.1)(32.6,17.1)(34,17.5)(35.4,17.6)(36.9,17.2)(38.3,17.3)(39.7,18.2)(40.6,18.8)(41.6,18.8)(42.5,18.3)(43.4,18.8)(44.9,19.2)(46.3,19.4)(47.2,19.0)(48.1,18.4)(49.1,17.9)(50,18.6)(51.4,19.3)(52.8,19.3)(53.8,18.5)(54.7,18.2)(55.5,18.4)(56.6,20.5)(57.1,21.5)(58.5,19.0)(59.4,17.6)(60.8,17.4)(62.2,17.4)(63.7,17.3)(64.6,17.6)(65.5,19.5)(66.5,22.8)(67.9,22.9)(68.8,23.5)(70.2,23.7)(71.6,24.0)(73.1,23.9)(74.5,24.2)(75.4,23.4)(76.8,22.6)(78.2,21.5)(79.6,20.55)(81.1,20.1)(82.5,19.65)(83.4,19.15)(84.3,19.3)(85.3,21.95)(86.2,23.7)(87.2,23.55)(88.1,22.6)(89.5,21.65)(90.9,23.1)(92.3,23.25)(93.8,22.6)(95.2,21.5)(96.6,21.8)(98,21.5)(99.4,21.05)(100.3,21.5)(101.7,25.75)(103.2,25.3)(104.6,24.95)(105.5,22.95)(106.9,21.95)(108.3,21.8)(109.7,21.35)(111.1,20.55)(112.3,20.1)(113.5,20.75)(114.9,19.8)(116.3,19.5)(117.7,20.1)(118.7,21.05)(119.6,21.35)(121,22.95)(122.4,26.25)(123.8,25.75)(125.2,25.45)(126.7,25.15)(128.1,25.05)(129.5,24.8)(130.9,24.65)(132.3,24.35)(133.7,23.7)(135.1,22.95)(136.5,24.0)(137.9,24.65)(138.9,23.7)(140.1,21.5)(141.2,20.25)(142.2,21.35)(143.6,22.95)(145,22.6)(146.4,22.3)(147.9,22.6)(149.2,23.1)(150.6,22.95)(152.5,22.85)(154.4,22.8)(156.3,22.75)(158.1,22.55)(160,22.3)(161.9,21.65)(163.3,20.75)(164.3,20.1)};
\addlegendentry{23m}
\addplot[s28] coordinates {(0,15.4)(2,15.3)(4,15.4)(6,15.6)(8,15.6)(10,15.75)(12,15.8)(14,15.7)(16,15.8)(18,15.85)(20,16.0)(22,16.1)(24,16.3)(26,16.6)(28,16.8)(30.3,16.9)(31.2,16.7)(32.6,16.8)(34,16.9)(35.4,16.6)(36.9,16.4)(38.3,16.9)(39.7,17.8)(40.6,18.3)(41.6,18.1)(42.5,17.5)(43.4,18.0)(44.9,18.6)(46.3,18.6)(47.2,18.1)(48.1,17.6)(49.1,17.2)(50,17.8)(51.4,18.1)(52.8,18.0)(53.8,17.3)(54.7,16.8)(55.5,17.0)(56.6,18.7)(57.1,19.6)(58.5,17.6)(59.4,16.9)(60.8,16.7)(62.2,16.8)(63.7,16.9)(64.6,17.2)(65.5,18.5)(66.5,18.7)(67.9,22.0)(68.8,22.5)(70.2,23.5)(71.6,24.0)(72.6,23.55)(73.5,23.0)(75.4,22.3)(76.8,21.05)(78.2,19.5)(79.6,19.0)(81.1,19.0)(82.5,18.55)(83.4,17.9)(84.3,19.0)(85.3,21.8)(86.2,23.55)(87.2,23.4)(88.6,22.15)(90,20.75)(91.4,22.0)(92.8,21.65)(94.2,20.75)(95.6,20.4)(97,20.1)(98.4,19.5)(99.9,19.15)(100.8,20.25)(101.7,25.6)(103.2,24.95)(104.6,24.2)(106,21.5)(107.4,20.25)(108.8,20.1)(110.2,19.8)(111.6,19.3)(113,19.15)(114.4,18.85)(115.8,18.35)(117.2,18.85)(118.7,19.65)(120.1,19.95)(121.5,22.3)(122.4,25.45)(123.8,25.15)(125.2,24.95)(126.7,24.95)(128.1,24.8)(129.5,24.0)(130.9,23.55)(132.3,22.6)(133.7,21.8)(135.1,21.05)(136.5,21.35)(137.9,22.6)(138.9,21.5)(140.1,18.7)(141.2,17.9)(142.2,20.1)(143.6,22.95)(145,22.3)(146.4,21.65)(147.9,22.3)(149.2,23.1)(150.6,22.95)(152.5,22.85)(154.4,22.8)(156.3,22.75)(158.1,22.55)(160,22.3)(161.9,21.05)(163.3,19.5)(164.3,19.5)};
\addlegendentry{28m}
\addplot[s33] coordinates {(0,15.35)(2,15.25)(4,15.4)(6,15.55)(8,15.55)(10,15.7)(12,15.75)(14,15.65)(16,15.75)(18,15.8)(20,15.95)(22,16.05)(24,16.25)(26,16.5)(28,16.75)(30.3,16.8)(31.2,16.6)(32.6,16.5)(34,16.5)(35.4,16.3)(36.9,16.0)(38.3,16.5)(39.7,17.4)(40.6,17.8)(41.6,17.5)(42.5,16.9)(43.4,17.4)(44.9,17.9)(46.3,17.9)(47.2,17.5)(48.1,17.0)(49.1,16.7)(50,17.2)(51.4,17.6)(52.8,17.5)(53.8,16.9)(54.7,16.5)(55.5,16.6)(57.1,17.3)(58.5,16.8)(59.4,16.4)(60.8,16.2)(62.2,16.4)(63.7,16.6)(64.6,16.9)(65.5,17.6)(66.5,17.9)(67.9,19.8)(68.8,19.5)(70.2,22.8)(71.6,23.5)(72.6,23.9)(73.5,22.0)(74.5,21.0)(75.4,20.1)(76.8,18.85)(78.2,18.2)(79.6,18.05)(81.1,17.9)(82.5,17.6)(83.4,17.25)(84.3,20.1)(85.3,22.0)(86.2,23.25)(87.2,22.3)(88.6,20.1)(90,19.15)(91.4,20.1)(92.8,19.8)(94.2,19.15)(95.6,18.55)(97,18.85)(98.4,18.2)(99.9,17.9)(100.8,19.5)(101.7,25.15)(103.2,24.5)(104.6,22.6)(106,20.25)(107.4,18.85)(108.8,18.55)(110.2,18.35)(111.6,18.2)(113,18.55)(114.4,18.35)(115.8,18.05)(117.2,18.35)(118.7,18.7)(120.1,18.85)(121.5,19.8)(122.4,21.8)(123.8,24.1)(125.2,25.2)(127.1,25.2)(128.5,25.05)(129.9,22.85)(131.3,21.35)(132.8,20.1)(134.2,19.5)(135.6,19.3)(137,19.95)(138.4,20.55)(139.8,19.5)(141,17.9)(142.2,20.1)(143.6,22.85)(145,22.3)(146.4,21.35)(147.9,22.3)(149.2,23.0)(150.6,22.85)(152.5,22.85)(154.4,22.8)(156.3,22.75)(158.1,22.55)(160,22.3)(161.9,20.75)(163.3,19.15)(164.3,18.55)};
\addlegendentry{33m}
\addplot[s38] coordinates {(0,15.3)(1,15.2)(2,15.25)(4,15.4)(6,15.5)(8,15.5)(10,15.65)(12,15.6)(14,15.5)(15,15.4)(16,15.6)(18,15.75)(20,15.8)(22,15.9)(23,15.7)(24,16.0)(26,16.4)(28,16.7)(30.3,16.6)(31.2,16.5)(32.6,16.3)(34,16.0)(35.4,15.6)(36.9,15.4)(38.3,16.2)(39.7,16.8)(40.6,16.7)(41.6,16.2)(42.5,16.0)(43.4,16.6)(44.9,17.0)(46.3,16.8)(47.2,16.4)(48.1,16.1)(49.1,16.3)(50,16.9)(51.4,16.3)(52.8,15.9)(53.8,16.1)(54.7,15.9)(55.5,16.0)(57.1,16.6)(58.5,16.3)(59.4,16.1)(60.8,15.9)(62.2,16.1)(63.7,16.4)(64.6,16.6)(65.5,17.1)(66.5,17.4)(67.2,16.8)(67.9,17.7)(68.8,17.9)(69.5,17.5)(70.2,20.0)(71.2,22.4)(72.3,19.5)(73.1,21.4)(74,19.3)(74.9,16.95)(76.3,17.25)(77.8,16.95)(79.2,16.8)(80.6,16.9)(82,16.65)(83.4,16.5)(84.3,17.6)(85.7,22.0)(87.2,22.6)(88.6,20.1)(90,16.95)(91.4,20.1)(92.8,22.95)(94.2,20.75)(95.6,16.95)(97,18.05)(98.4,17.6)(99.9,17.9)(101,20.1)(102.2,24.95)(103.6,22.3)(105,19.5)(106.4,16.8)(107.9,17.1)(109.3,16.5)(110.7,16.95)(112.3,18.05)(113.5,17.9)(114.9,17.75)(116.3,17.6)(117.7,17.9)(119.2,18.05)(120.6,17.9)(121.9,20.1)(122.9,17.9)(124.3,19.15)(125.7,22.3)(127.1,20.1)(128.1,22.6)(129,24.95)(129.9,22.6)(130.9,17.25)(132.3,18.2)(133.7,18.2)(135.1,17.9)(136.5,18.2)(137.9,18.5)(139.2,18.2)(140.3,17.1)(141.2,17.25)(142.2,20.25)(143.6,22.7)(145,21.65)(146.4,19.45)(147.9,21.8)(149.2,22.85)(150.6,22.8)(152.5,22.8)(154.4,22.75)(156.3,22.6)(158.1,22.45)(160,22.3)(161.5,21.05)(162.9,16.2)(164.3,19.15)};
\addlegendentry{38m}
\addplot[sst] coordinates {(0,16.0)(1.1,15.6)(2.5,15.55)(3.5,15.7)(4.4,15.45)(5.8,15.6)(7.2,15.75)(8.7,15.4)(9.8,15.0)(11,14.9)(12.4,15.4)(13.8,15.7)(15.2,15.7)(16.6,16.15)(18.1,16.3)(19.5,16.3)(20.4,16.95)(21.3,16.0)(22.8,16.1)(24.2,16.3)(25.6,16.65)(27,17.1)(27.9,17.6)(28.9,18.05)(30.3,18.7)(31.7,18.35)(33.1,19.0)(34.5,19.45)(35.9,19.55)(37.3,19.6)(38.7,20.1)(40.1,20.65)(41.6,20.7)(43,21.05)(44.4,21.35)(45.8,21.65)(47.2,22.3)(48.6,22.15)(49.6,23.25)(51,23.55)(52.4,24.2)(53.8,24.8)(55.2,25.3)(56.6,25.2)(58,25.15)(59.4,25.35)(60.8,25.5)(62.2,25.65)(63.7,25.45)(65.1,24.75)(66.5,24.7)(67.9,24.9)(69.3,25.3)(70.7,25.15)(72.1,24.6)(73.5,24.05)(74.9,24.35)(76.4,24.65)(78.2,24.95)(79.6,25.45)(81.1,26.4)(82,26.6)(83.4,26.05)(84.4,25.15)(85.4,23.7)(86.2,22.45)(87.6,23.1)(89.1,23.9)(90.4,24.2)(91.9,24.35)(93.3,24.95)(94.7,25.05)(96.1,25.6)(97.5,26.2)(99,26.05)(100.3,25.75)(101.7,24.95)(103.2,24.2)(104.1,23.7)(105.1,24.95)(106.5,25.15)(107.9,25.6)(109.3,26.0)(110.7,26.4)(112.1,26.55)(113.5,26.7)(114.4,26.95)(115.4,26.6)(116.6,26.45)(117.7,26.55)(118.5,26.8)(119.6,26.05)(121,25.95)(122.4,25.85)(123.8,25.6)(125.2,24.95)(126.7,25.05)(128.1,25.3)(129.5,25.6)(130.9,25.45)(132.3,25.35)(133.7,25.3)(135.1,25.2)(136.1,25.05)(137,nan)(139.8,25.15)(140.8,24.8)(141.7,24.35)(142.5,nan)(143.6,23.95)(145,23.7)(146.9,23.45)(148.8,23.3)(150.6,23.1)(152.1,23.0)(153.5,22.85)(154.9,22.3)(156.3,22.7)(157.7,22.8)(158.6,22.6)(160,22.55)(161.5,22.6)(162.9,22.55)(164.3,22.55)};
\addlegendentry{SST}
\draw[hbox] (axis cs:55.5,14.02) rectangle (axis cs:64.3,28.4);
\draw[hbox] (axis cs:112.3,14.02) rectangle (axis cs:118.4,28.4);
\node[font=\bfseries\fs{8.5}] at (axis cs:13.8,27.6) {TA};
\end{axis}
\end{tikzpicture}
\end{document}
